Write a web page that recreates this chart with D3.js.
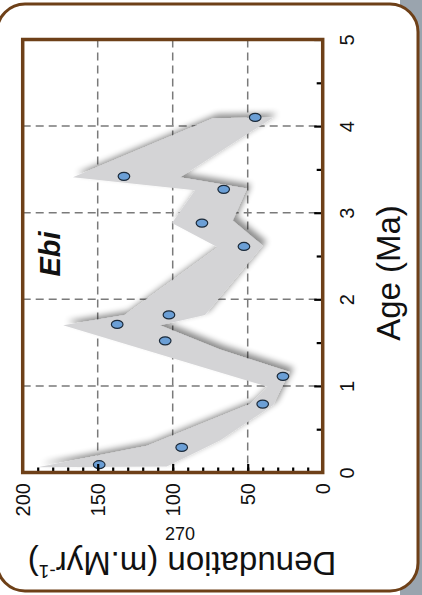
<!DOCTYPE html>
<html>
<head>
<meta charset="utf-8">
<script src="https://cdn.jsdelivr.net/npm/d3@7/dist/d3.min.js"></script>
<style>
  html, body { margin: 0; padding: 0; background: #ffffff; }
  svg { display: block; }
  text { font-family: "Liberation Sans", Arial, Helvetica, sans-serif; }
</style>
</head>
<body>
<svg id="chart" width="422" height="595"></svg>
<script>
// ---- data ----
const ages       = [0.09, 0.29, 0.79, 1.11, 1.52, 1.71, 1.82, 2.61, 2.88, 3.27, 3.42, 4.10];
const denudation = [149, 94, 40, 26.5, 105, 137, 102.5, 52.5, 80.5, 66, 132.5, 45];

// grey uncertainty envelope outline (age, denudation)
const envAge = [0.06, 0.31, 0.79, 0.99, 1.70, 1.82, 2.60, 2.88, 3.26, 3.41, 4.09, 4.10,
                3.41, 3.28, 2.91, 2.62, 1.82, 1.70, 1.42, 1.16, 1.01, 0.78, 0.37, 0.07];
const envDen = [190, 117, 48.5, 36.5, 173, 132, 70, 100.5, 85, 166.5, 73, 33,
                95, 50.5, 60, 40, 78.5, 108.5, 68.5, 22, 26.5, 33, 68.5, 104];

const ageTicks = [0, 1, 2, 3, 4, 5];
const ageMinorTicks = [0.5, 1.5, 2.5, 3.5, 4.5];
const denTicks = [0, 50, 100, 150, 200];
const denMinorTicks = d3.range(0, 201, 10);
const ageGrid = [1, 2, 3, 4];
const denGrid = [50, 100, 150];

const siteLabel = "Ebi";
const ageTitle = "Age (Ma)";
const denTitle = "Denudation (m.Myr";
const denTitleSup = "-1";
const pageNumber = "270";

// ---- layout (chart is drawn rotated: age runs bottom->top, denudation right->left) ----
const brown = "#6e4018";
const svg = d3.select("#chart");

const yAge = d3.scaleLinear().domain([0, 5]).range([472.5, 39.5]);
const xDen = d3.scaleLinear().domain([0, 200]).range([322.7, 22.7]);

// background pieces
svg.append("rect").attr("x", 0).attr("y", 0).attr("width", 422).attr("height", 595).attr("fill", "#ffffff");
svg.append("rect").attr("x", 400).attr("y", 0).attr("width", 22).attr("height", 595).attr("fill", "#9aa4ae");
svg.append("rect").attr("x", -3).attr("y", 4).attr("width", 421).attr("height", 587)
   .attr("rx", 28).attr("ry", 28)
   .attr("fill", "#ffffff").attr("stroke", brown).attr("stroke-width", 3);

// shadow filter
const defs = svg.append("defs");
const f = defs.append("filter").attr("id", "shadow")
  .attr("x", "-20%").attr("y", "-20%").attr("width", "140%").attr("height", "140%");
f.append("feGaussianBlur").attr("in", "SourceAlpha").attr("stdDeviation", 3).attr("result", "b");
f.append("feOffset").attr("in", "b").attr("dx", 4).attr("dy", -4).attr("result", "o");
f.append("feComponentTransfer").attr("in", "o").attr("result", "s")
  .append("feFuncA").attr("type", "linear").attr("slope", 0.45);
const m = f.append("feMerge");
m.append("feMergeNode").attr("in", "s");
m.append("feMergeNode").attr("in", "SourceGraphic");

// grid
const gGrid = svg.append("g").attr("stroke", "#7a7a7a").attr("stroke-width", 1.5)
  .attr("stroke-dasharray", "8,5").attr("fill", "none");
gGrid.selectAll("line.h").data(ageGrid).join("line").attr("class", "h")
  .attr("x1", xDen(200)).attr("x2", xDen(0))
  .attr("y1", d => yAge(d)).attr("y2", d => yAge(d));
gGrid.selectAll("line.v").data(denGrid).join("line").attr("class", "v")
  .attr("x1", d => xDen(d)).attr("x2", d => xDen(d))
  .attr("y1", yAge(5)).attr("y2", yAge(0));

// envelope
const env = envAge.map((a, i) => [xDen(envDen[i]), yAge(a)]);
svg.append("path")
  .attr("d", d3.line()(env) + "Z")
  .attr("fill", "#d4d4d6")
  .attr("filter", "url(#shadow)");

// points
svg.append("g").selectAll("ellipse").data(ages).join("ellipse")
  .attr("cx", (d, i) => xDen(denudation[i]))
  .attr("cy", d => yAge(d))
  .attr("rx", 5.8).attr("ry", 4)
  .attr("fill", "#6b9fd6").attr("stroke", "#1b2a3a").attr("stroke-width", 1.2);

// age axis (right side, ticks inward)
const ageAxisMinor = d3.axisRight(yAge).tickValues(ageMinorTicks).tickSizeInner(-4.5).tickSizeOuter(0).tickFormat("");
const ageAxisMajor = d3.axisRight(yAge).tickValues(ageTicks).tickSizeInner(-7).tickSizeOuter(0).tickFormat(d3.format("d"));
const gAm = svg.append("g").attr("transform", `translate(${xDen(0) - 1.5},0)`).call(ageAxisMinor);
const gA = svg.append("g").attr("transform", `translate(${xDen(0) - 1.5},0)`).call(ageAxisMajor);
[gAm, gA].forEach(g => {
  g.select(".domain").remove();
  g.selectAll(".tick line").attr("stroke", "#000").attr("stroke-width", 2.2);
});
gA.selectAll(".tick text")
  .attr("x", null).attr("dy", null)
  .attr("transform", `translate(26,0) rotate(-90)`)
  .attr("text-anchor", "middle").attr("dy", "0.35em")
  .attr("font-size", 20).attr("fill", "#111")
  .style("font-family", '"Liberation Sans", Arial, sans-serif');
gA.select(".tick:first-of-type line").remove();

// denudation axis (bottom, ticks inward)
const denAxisMinor = d3.axisBottom(xDen).tickValues(denMinorTicks).tickSizeInner(-3.5).tickSizeOuter(0).tickFormat("");
const denAxisMajor = d3.axisBottom(xDen).tickValues(denTicks).tickSizeInner(-7).tickSizeOuter(0).tickFormat(d3.format("d"));
const gDm = svg.append("g").attr("transform", `translate(0,${yAge(0) - 1.5})`).call(denAxisMinor);
const gD = svg.append("g").attr("transform", `translate(0,${yAge(0) - 1.5})`).call(denAxisMajor);
[gDm, gD].forEach(g => {
  g.select(".domain").remove();
  g.selectAll(".tick line").attr("stroke", "#000").attr("stroke-width", 2.2);
});
gDm.selectAll(".tick").filter(d => d === 0 || d === 200).remove();
gD.selectAll(".tick").filter(d => d === 0 || d === 200).select("line").remove();
gD.selectAll(".tick text")
  .attr("y", null).attr("dy", null)
  .attr("transform", `translate(0,12) rotate(-90)`)
  .attr("text-anchor", "end").attr("dy", "0.35em")
  .attr("font-size", 20).attr("fill", "#111")
  .style("font-family", '"Liberation Sans", Arial, sans-serif');

// frame
svg.append("rect")
  .attr("x", xDen(200)).attr("y", yAge(5))
  .attr("width", xDen(0) - xDen(200)).attr("height", yAge(0) - yAge(5))
  .attr("fill", "none").attr("stroke", brown).attr("stroke-width", 3.5);

// site label
svg.append("text")
  .attr("transform", "translate(60,254) rotate(-90)")
  .attr("text-anchor", "middle")
  .attr("font-size", 29).attr("font-weight", "bold").attr("font-style", "italic")
  .attr("fill", "#111")
  .text(siteLabel);

// axis titles
svg.append("text")
  .attr("transform", "translate(400,273) rotate(-90)")
  .attr("text-anchor", "middle")
  .attr("font-size", 33).attr("fill", "#111")
  .text(ageTitle);

const dt = svg.append("text")
  .attr("transform", "translate(182,552) rotate(180)")
  .attr("text-anchor", "middle")
  .attr("font-size", 33).attr("fill", "#111");
dt.append("tspan").text(denTitle);
dt.append("tspan").attr("font-size", 19).attr("dy", -13).text(denTitleSup);
dt.append("tspan").attr("dy", 13).text(")");

// page number
svg.append("text")
  .attr("x", 180).attr("y", 540)
  .attr("text-anchor", "middle")
  .attr("font-size", 18).attr("fill", "#111")
  .text(pageNumber);
</script>
</body>
</html>
